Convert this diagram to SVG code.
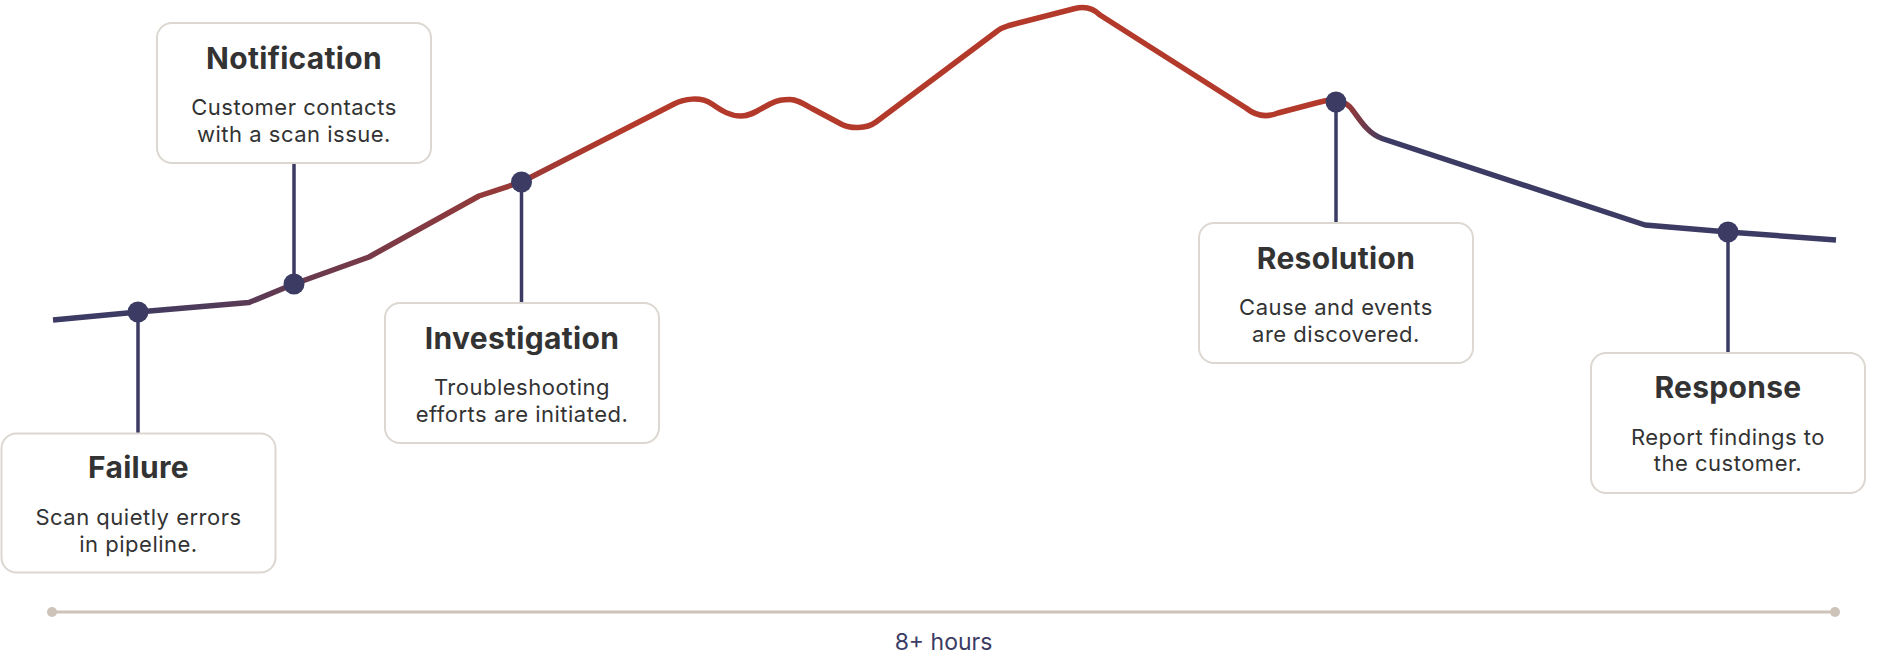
<svg xmlns="http://www.w3.org/2000/svg" width="1888" height="662" viewBox="0 0 1888 662">
  <style>
    .box { fill: #ffffff; stroke: #dcd7d1; stroke-width: 2; }
    .title { font-family: Inter, "Open Sans", sans-serif; font-weight: 700; font-size: 30px; fill: #333333; text-anchor: middle; letter-spacing: 0.3px; }
    .body { font-family: Inter, "Open Sans", sans-serif; font-weight: 400; font-size: 22px; fill: #333333; text-anchor: middle; letter-spacing: 0.5px; }
    .conn { stroke: #3b3b63; stroke-width: 3.5; fill: none; }
    .dot { fill: #3b3b63; }
    .axis { stroke: #cdc3b9; stroke-width: 3; fill: none; }
    .axis-end { fill: #cdc3b9; }
    .axis-label { font-family: Inter, "Open Sans", sans-serif; font-size: 23px; fill: #3b3b63; text-anchor: middle; }
  </style>
  <defs>
    <linearGradient id="curveGrad" gradientUnits="userSpaceOnUse" x1="0" y1="0" x2="1888" y2="0">
      <stop offset="0" stop-color="#3b3b63"/>
      <stop offset="0.064" stop-color="#3b3b63"/>
      <stop offset="0.33" stop-color="#b3392b"/>
      <stop offset="0.708" stop-color="#b3392b"/>
      <stop offset="0.734" stop-color="#3b3b63"/>
      <stop offset="1" stop-color="#3b3b63"/>
    </linearGradient>
  </defs>

  <g id="connectors">
    <path id="curve" d="M 53 320 L 138 312 L 249 302.5 L 294 284 L 369 257 L 479 196 L 521.5 182 L 674 104 C 684 99, 700 96, 712 104 C 722 111, 730 116, 741 116 C 752 116, 760 109, 770 104 C 778 100, 782 99.5, 790 99.5 C 797 99.5, 803 103.5, 813 109 L 842 124.5 C 850 128.5, 866 129.5, 876 122 L 996 32 C 1000 28, 1004 27, 1009 25.5 L 1075 8.5 C 1085 6, 1093 8, 1100 15 L 1246 108 C 1256 116, 1266 118, 1278 113 L 1318 102.5 C 1330 99, 1342 99, 1350 107 C 1358 116, 1366 133, 1382 138.5 L 1645 225 L 1728 232 L 1836 240" fill="none" stroke="url(#curveGrad)" stroke-width="5.5" stroke-linejoin="round" stroke-linecap="butt"/>
    <line class="conn" x1="138" y1="312" x2="138" y2="433.5"/>
    <line class="conn" x1="294" y1="284" x2="294" y2="163"/>
    <line class="conn" x1="521.5" y1="182" x2="521.5" y2="303"/>
    <line class="conn" x1="1336" y1="102" x2="1336" y2="223"/>
    <line class="conn" x1="1728" y1="232" x2="1728" y2="353"/>
    <circle class="dot" cx="138" cy="312" r="10.5"/>
    <circle class="dot" cx="294" cy="284" r="10.5"/>
    <circle class="dot" cx="521.5" cy="182" r="10.5"/>
    <circle class="dot" cx="1336" cy="102" r="10.5"/>
    <circle class="dot" cx="1728" cy="232" r="10.5"/>
  </g>

  <g id="failure">
    <rect class="box" x="1.5" y="433.5" width="274" height="139" rx="15"/>
    <text class="title" x="138.5" y="478">Failure</text>
    <text class="body" x="138.5" y="524.5">Scan quietly errors</text>
    <text class="body" x="138.5" y="551.5">in pipeline.</text>
  </g>

  <g id="notification">
    <rect class="box" x="157" y="23" width="274" height="140" rx="15"/>
    <text class="title" x="294" y="68.5">Notification</text>
    <text class="body" x="294" y="115">Customer contacts</text>
    <text class="body" x="294" y="141.7">with a scan issue.</text>
  </g>

  <g id="investigation">
    <rect class="box" x="385" y="303" width="274" height="140" rx="15"/>
    <text class="title" x="522" y="348.5">Investigation</text>
    <text class="body" x="522" y="395">Troubleshooting</text>
    <text class="body" x="522" y="421.7">efforts are initiated.</text>
  </g>

  <g id="resolution">
    <rect class="box" x="1199" y="223" width="274" height="140" rx="15"/>
    <text class="title" x="1336" y="268.5">Resolution</text>
    <text class="body" x="1336" y="315">Cause and events</text>
    <text class="body" x="1336" y="341.7">are discovered.</text>
  </g>

  <g id="response">
    <rect class="box" x="1591" y="353" width="274" height="140" rx="15"/>
    <text class="title" x="1728" y="398">Response</text>
    <text class="body" x="1728" y="444.5">Report findings to</text>
    <text class="body" x="1728" y="471">the customer.</text>
  </g>

  <g id="timeline">
    <line class="axis" x1="52" y1="612" x2="1835" y2="612"/>
    <circle class="axis-end" cx="52" cy="612" r="5"/>
    <circle class="axis-end" cx="1835" cy="612" r="5"/>
    <text class="axis-label" x="943.5" y="650">8+ hours</text>
  </g>
</svg>
